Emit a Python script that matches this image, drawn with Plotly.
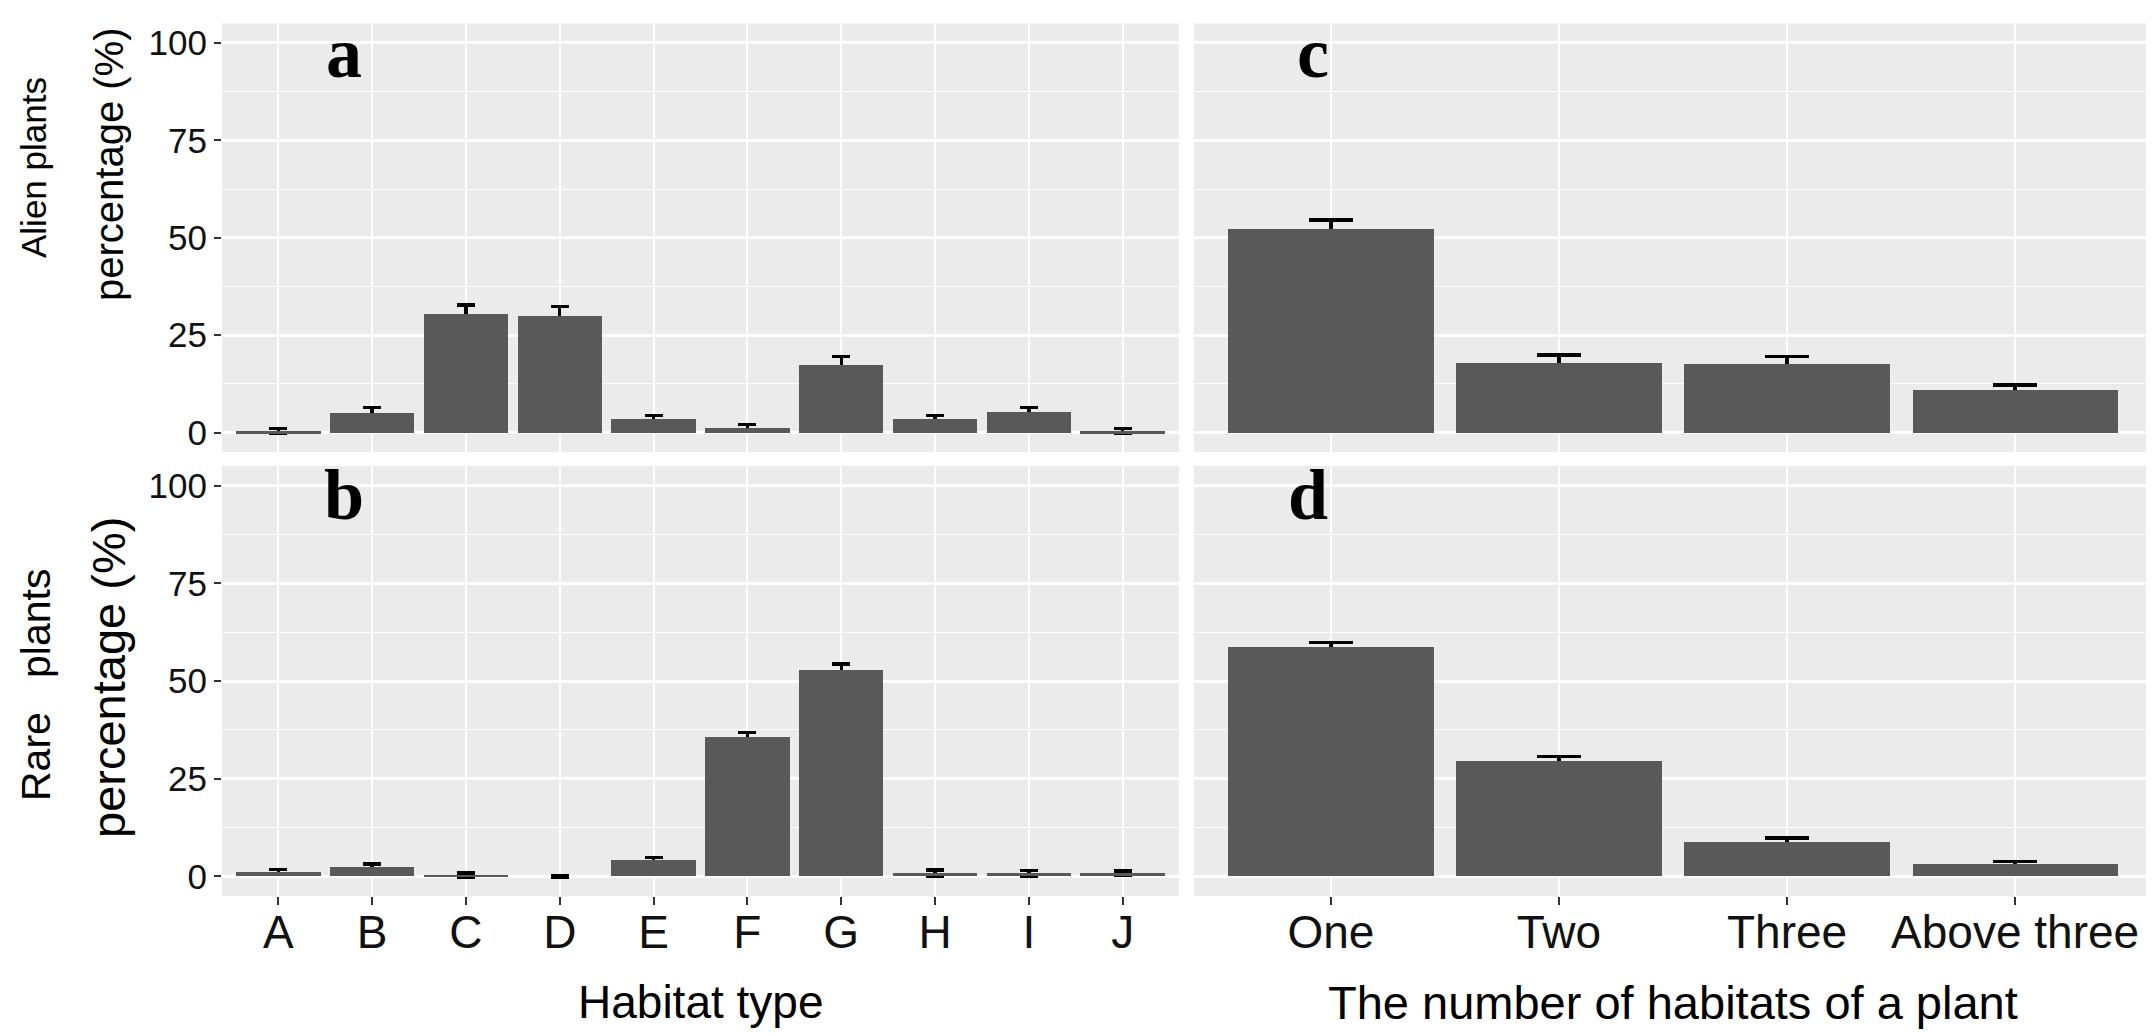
import plotly.graph_objects as go

# ---------------- data ----------------
habitats = ["A", "B", "C", "D", "E", "F", "G", "H", "I", "J"]
n_habitats = ["One", "Two", "Three", "Above three"]

alien_habitat = [0.4, 5.1, 30.6, 30.1, 3.6, 1.2, 17.4, 3.6, 5.3, 0.4]
alien_habitat_se = [0.7, 1.4, 2.1, 2.2, 0.8, 0.8, 2.1, 0.8, 1.2, 0.7]
rare_habitat = [1.2, 2.5, 0.4, 0.0, 4.3, 35.7, 52.8, 0.9, 0.8, 0.8]
rare_habitat_se = [0.6, 0.7, 0.5, 0.3, 0.6, 1.2, 1.5, 0.8, 0.7, 0.6]

alien_count = [52.4, 17.9, 17.7, 11.0]
alien_count_se = [2.2, 2.0, 1.8, 1.2]
rare_count = [58.8, 29.6, 8.8, 3.3]
rare_count_se = [1.0, 1.1, 1.0, 0.6]

y_ticks = [0, 25, 50, 75, 100]
y_minor = [12.5, 37.5, 62.5, 87.5]

# ---------------- style ----------------
W, H = 2154, 1036
BAR = "#595959"
PANEL = "#EBEBEB"
SANS = "Liberation Sans, Arial, sans-serif"
SERIF = "Liberation Serif, Times New Roman, serif"
DY = -5  # global vertical nudge (px)

def px_x(p):
    return p / W

def px_y(p):
    return 1 - (p + DY) / H

fig = go.Figure()

panels = [
    ("x", "y", habitats, alien_habitat, alien_habitat_se, 9),
    ("x2", "y2", n_habitats, alien_count, alien_count_se, 22),
    ("x3", "y3", habitats, rare_habitat, rare_habitat_se, 9),
    ("x4", "y4", n_habitats, rare_count, rare_count_se, 22),
]

for xa, ya, cats, vals, se, cw in panels:
    # error bars carried by an invisible bar drawn first (hidden under the real bar)
    fig.add_trace(go.Bar(
        x=cats, y=vals, width=0.9, xaxis=xa, yaxis=ya,
        marker=dict(color="rgba(0,0,0,0)", line=dict(width=0)),
        error_y=dict(type="data", array=se, visible=True, color="black",
                     thickness=3.4, width=cw),
        showlegend=False, hoverinfo="skip",
    ))
    fig.add_trace(go.Bar(
        x=cats, y=vals, width=0.9, xaxis=xa, yaxis=ya,
        marker=dict(color=BAR, line=dict(width=0)),
        showlegend=False,
    ))

xdom_l = [px_x(214), px_x(1171)]
xdom_r = [px_x(1186), px_x(2144)]
ydom_t = [px_y(449), px_y(20.5)]
ydom_b = [px_y(893), px_y(463)]

def xaxis(dom, anchor, cats, bottom):
    d = dict(
        domain=dom, anchor=anchor, type="category",
        categoryorder="array", categoryarray=cats,
        range=[-0.6, len(cats) - 0.4],
        showgrid=True, gridcolor="white", gridwidth=2,
        zeroline=False, showline=False,
        fixedrange=True,
    )
    if bottom:
        d.update(ticks="outside", ticklen=8, tickwidth=2, tickcolor="#333333",
                 showticklabels=True, ticklabelstandoff=-12,
                 tickfont=dict(family=SANS, size=46, color="#111111"))
    else:
        d.update(ticks="", showticklabels=False)
    return d

def yaxis(dom, anchor, left):
    d = dict(
        domain=dom, anchor=anchor, range=[-5, 105],
        tickvals=y_ticks, ticktext=[str(v) for v in y_ticks],
        showgrid=True, gridcolor="white", gridwidth=2.5,
        minor=dict(tickvals=y_minor, showgrid=True, gridcolor="white", gridwidth=1.2, ticks=""),
        zeroline=False, showline=False, fixedrange=True,
    )
    if left:
        d.update(ticks="outside", ticklen=7, tickwidth=2, tickcolor="#333333",
                 showticklabels=True,
                 tickfont=dict(family=SANS, size=35, color="#111111"))
    else:
        d.update(ticks="", showticklabels=False)
    return d

annotations = []

# panel letters
letters = [("a", "x", "y", 0.7), ("c", "x2", "y2", -0.08),
           ("b", "x3", "y3", 0.7), ("d", "x4", "y4", -0.1)]
for t, xa, ya, xv in letters:
    annotations.append(dict(
        text="<b>%s</b>" % t, x=xv, y=97.5, xref=xa, yref=ya,
        showarrow=False, xanchor="center", yanchor="middle",
        font=dict(family=SERIF, size=72, color="black"),
    ))

# y axis titles (two lines each)
ytitles = [
    ("Alien plants", 25, 165, 35),
    ("percentage (%)", 101, 162, 40),
    ("Rare&nbsp;&nbsp;&nbsp;plants", 28, 682, 41),
    ("percentage (%)", 100, 675, 47),
]
for t, xc, yc, fs in ytitles:
    annotations.append(dict(
        text=t, x=px_x(xc), y=px_y(yc), xref="paper", yref="paper",
        showarrow=False, textangle=-90, xanchor="center", yanchor="middle",
        font=dict(family=SANS, size=fs, color="black"),
    ))

# x axis titles
annotations.append(dict(
    text="Habitat type", x=px_x(692.5), y=px_y(999), xref="paper", yref="paper",
    showarrow=False, xanchor="center", yanchor="middle",
    font=dict(family=SANS, size=46, color="black"),
))
annotations.append(dict(
    text="The number of habitats of a plant", x=px_x(1665), y=px_y(999),
    xref="paper", yref="paper",
    showarrow=False, xanchor="center", yanchor="middle",
    font=dict(family=SANS, size=47, color="black"),
))

fig.update_layout(
    width=W, height=H,
    margin=dict(l=0, r=0, t=0, b=0),
    paper_bgcolor="white", plot_bgcolor=PANEL,
    barmode="overlay", bargap=0,
    xaxis=xaxis(xdom_l, "y", habitats, False),
    xaxis2=xaxis(xdom_r, "y2", n_habitats, False),
    xaxis3=xaxis(xdom_l, "y3", habitats, True),
    xaxis4=xaxis(xdom_r, "y4", n_habitats, True),
    yaxis=yaxis(ydom_t, "x", True),
    yaxis2=yaxis(ydom_t, "x2", False),
    yaxis3=yaxis(ydom_b, "x3", True),
    yaxis4=yaxis(ydom_b, "x4", False),
    annotations=annotations,
    showlegend=False,
)

fig.write_html("out.html")
